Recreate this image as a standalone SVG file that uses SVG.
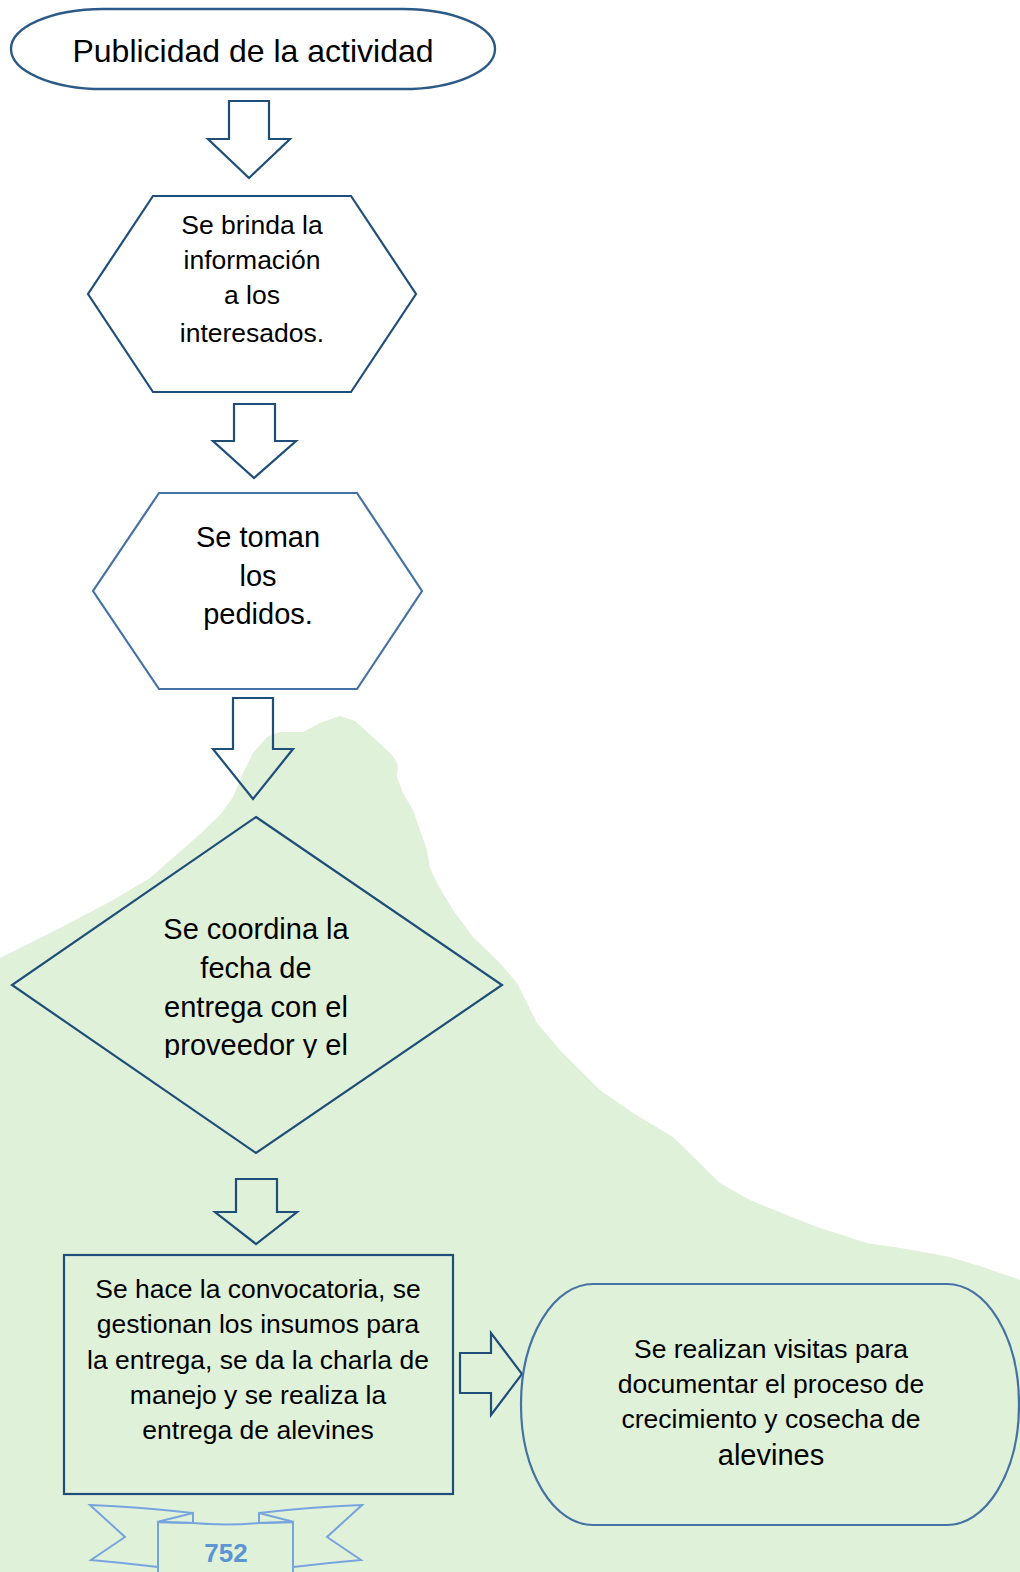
<svg xmlns="http://www.w3.org/2000/svg" width="1020" height="1572" viewBox="0 0 1020 1572">
<style>
.t{font-family:"Liberation Sans",Arial,sans-serif;fill:#000;text-anchor:middle}
.dk{fill:none;stroke:#1f4e79;stroke-width:2.2;stroke-linejoin:miter}
.lt{fill:none;stroke:#4672a3;stroke-width:2.2}
.arr{fill:none;stroke:#1f4e79;stroke-width:2.2;stroke-linejoin:miter}
.rib{fill:none;stroke:#77a4dc;stroke-width:2;stroke-linejoin:miter}
</style>
<defs>
<clipPath id="dclip"><rect x="0" y="800" width="520" height="258"/></clipPath>
</defs>
<rect x="0" y="0" width="1020" height="1572" fill="#ffffff"/>
<path id="background" fill="#e0f1d9" d="M0,958 L60,928 L113,900 L150,878 L200,834 L220,815 L233,797 L243,773 L253,753 L267,737 L280,732 L303,732 L320,723 L340,716 L355,721 L373,737 L393,756 L398,765 L397,777 L403,793 L413,810 L420,830 L427,850 L430,868 L437,883 L453,910 L473,937 L500,963 L517,983 L527,1003 L537,1023 L560,1050 L600,1090 L633,1113 L673,1137 L720,1183 L750,1200 L767,1207 L817,1227 L867,1243 L907,1249 L950,1257 L983,1267 L1020,1280 L1020,1572 L0,1572 Z"/>

<g id="connectors">
<path class="arr" d="M229,101 L269,101 L269,139 L290,139 L249,178 L208,139 L229,139 Z"/>
<path class="arr" d="M234,404 L275,404 L275,441 L296,441 L254,478 L213,441 L234,441 Z"/>
<path class="arr" d="M233,698 L273,698 L273,749 L293,749 L253,799 L213,749 L233,749 Z"/>
<path class="arr" d="M236,1179 L277,1179 L277,1212 L297,1212 L256,1244 L215,1212 L236,1212 Z"/>
<path class="arr" d="M460,1353 L491,1353 L491,1333 L522,1374 L491,1415 L491,1393 L460,1393 Z"/>
</g>

<g id="node-publicidad">
<rect x="11" y="9" width="484" height="80" rx="92" ry="40" fill="none" stroke="#2b5a87" stroke-width="2.4"/>
<text class="t" x="253" y="62" font-size="32">Publicidad de la actividad</text>
</g>

<g id="node-brinda">
<polygon class="dk" points="153,196 351,196 416,294 351,392 153,392 88,294"/>
<text class="t" font-size="26.5"><tspan x="252" y="234">Se brinda la</tspan><tspan x="252" y="269">información</tspan><tspan x="252" y="304">a los</tspan><tspan x="252" y="342">interesados.</tspan></text>
</g>

<g id="node-pedidos">
<polygon class="lt" points="159,493 357,493 422,591 357,689 159,689 93,591"/>
<text class="t" font-size="29"><tspan x="258" y="547">Se toman</tspan><tspan x="258" y="586">los</tspan><tspan x="258" y="624">pedidos.</tspan></text>
</g>

<g id="node-coordina">
<polygon class="dk" points="256,817 502,985 256,1153 12,985"/>
<g clip-path="url(#dclip)">
<text class="t" font-size="29"><tspan x="256" y="939">Se coordina la</tspan><tspan x="256" y="978">fecha de</tspan><tspan x="256" y="1017">entrega con el</tspan><tspan x="256" y="1055">proveedor y el</tspan></text>
</g>
</g>

<g id="node-convocatoria">
<rect class="dk" x="64" y="1255" width="389" height="239"/>
<text class="t" font-size="26.5"><tspan x="258" y="1298">Se hace la convocatoria, se</tspan><tspan x="258" y="1333">gestionan los insumos para</tspan><tspan x="258" y="1369">la entrega, se da la charla de</tspan><tspan x="258" y="1404">manejo y se realiza la</tspan><tspan x="258" y="1439">entrega de alevines</tspan></text>
</g>

<g id="node-visitas">
<rect class="lt" x="521" y="1284" width="498" height="241" rx="72" ry="120"/>
<text class="t" font-size="26.5"><tspan x="771" y="1358">Se realizan visitas para</tspan><tspan x="771" y="1393">documentar el proceso de</tspan><tspan x="771" y="1428">crecimiento y cosecha de</tspan><tspan x="771" y="1465" font-size="29">alevines</tspan></text>
</g>

<g id="page-ribbon">
<path class="rib" d="M193,1513 Q140,1507 90,1505 L125,1537 L91,1560 Q125,1563 158,1567"/>
<path class="rib" d="M193,1513 L157,1522 L193,1523 Z"/>
<path class="rib" d="M259,1513 Q310,1507 362,1505 L327,1537 L361,1560 Q327,1563 293,1567"/>
<path class="rib" d="M259,1513 L294,1522 L259,1523 Z"/>
<path class="rib" d="M158,1574 L158,1522 L193,1523 Q226,1526 259,1523 L293,1522 L293,1574"/>
<text x="226" y="1562" font-family="'Liberation Sans',Arial,sans-serif" font-weight="bold" font-size="26" fill="#5b95d3" text-anchor="middle">752</text>
</g>
</svg>
